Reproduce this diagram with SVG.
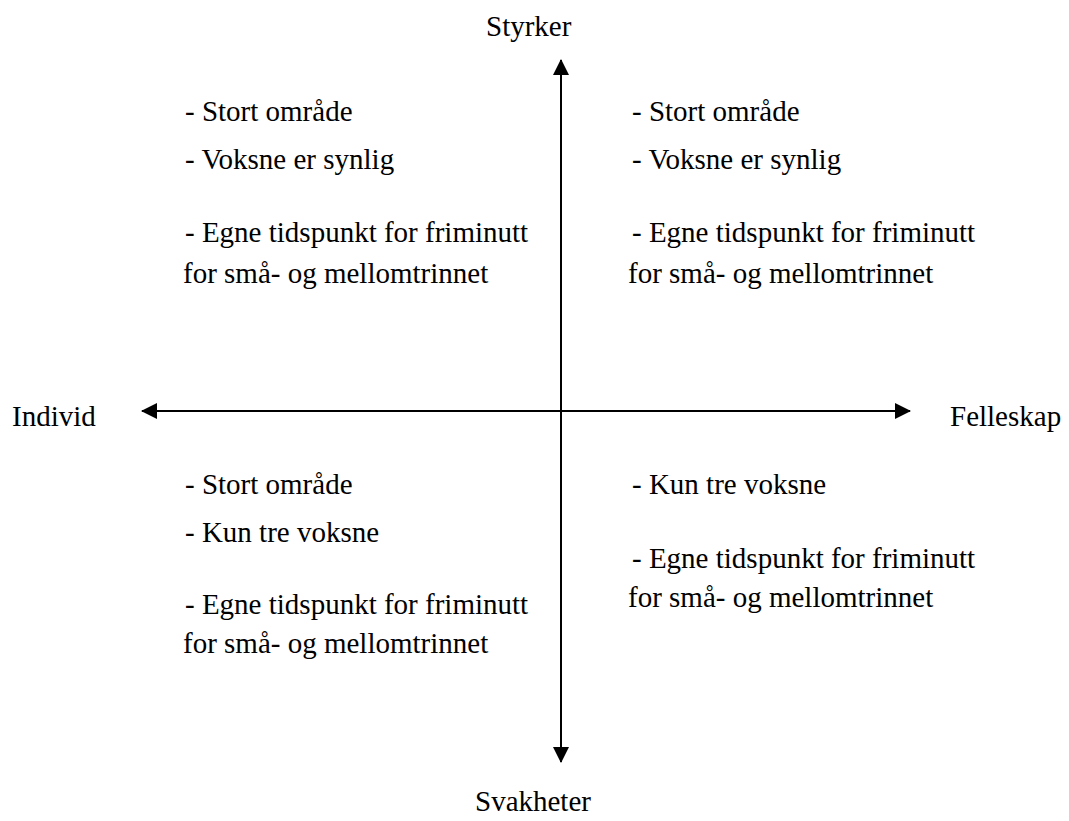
<svg xmlns="http://www.w3.org/2000/svg" width="1069" height="821" viewBox="0 0 1069 821">
<style>
text{font-family:"Liberation Serif","Times New Roman",serif;font-size:29px;fill:#000}
.ax{stroke:#000;stroke-width:2;fill:none}
</style>
<defs>
<marker id="ah" viewBox="0 0 16 16" refX="15" refY="8" markerWidth="16" markerHeight="16" markerUnits="userSpaceOnUse" orient="auto">
<path d="M0,0 L16,8 L0,16 Z" fill="#000"/>
</marker>
</defs>
<rect width="1069" height="821" fill="#fff"/>
<g id="connectors">
<line class="ax" x1="561" y1="410" x2="561" y2="60" marker-end="url(#ah)"/>
<line class="ax" x1="561" y1="410" x2="561" y2="762" marker-end="url(#ah)"/>
<line class="ax" x1="561" y1="411" x2="142" y2="411" marker-end="url(#ah)"/>
<line class="ax" x1="561" y1="411" x2="910" y2="411" marker-end="url(#ah)"/>
</g>
<g id="styrker"><text x="486" y="36">Styrker</text></g>
<g id="svakheter"><text x="475" y="811">Svakheter</text></g>
<g id="individ"><text x="12" y="426">Individ</text></g>
<g id="felleskap"><text x="950" y="426">Felleskap</text></g>
<g id="q-top-left">
<text x="185" y="121">- Stort område</text>
<text x="185" y="169">- Voksne er synlig</text>
<text x="185" y="242">- Egne tidspunkt for friminutt</text>
<text x="183" y="283">for små- og mellomtrinnet</text>
</g>
<g id="q-top-right">
<text x="632" y="121">- Stort område</text>
<text x="632" y="169">- Voksne er synlig</text>
<text x="632" y="242">- Egne tidspunkt for friminutt</text>
<text x="628" y="283">for små- og mellomtrinnet</text>
</g>
<g id="q-bottom-left">
<text x="185" y="494">- Stort område</text>
<text x="185" y="542">- Kun tre voksne</text>
<text x="185" y="614">- Egne tidspunkt for friminutt</text>
<text x="183" y="653">for små- og mellomtrinnet</text>
</g>
<g id="q-bottom-right">
<text x="632" y="494">- Kun tre voksne</text>
<text x="632" y="568">- Egne tidspunkt for friminutt</text>
<text x="628" y="607">for små- og mellomtrinnet</text>
</g>
</svg>
